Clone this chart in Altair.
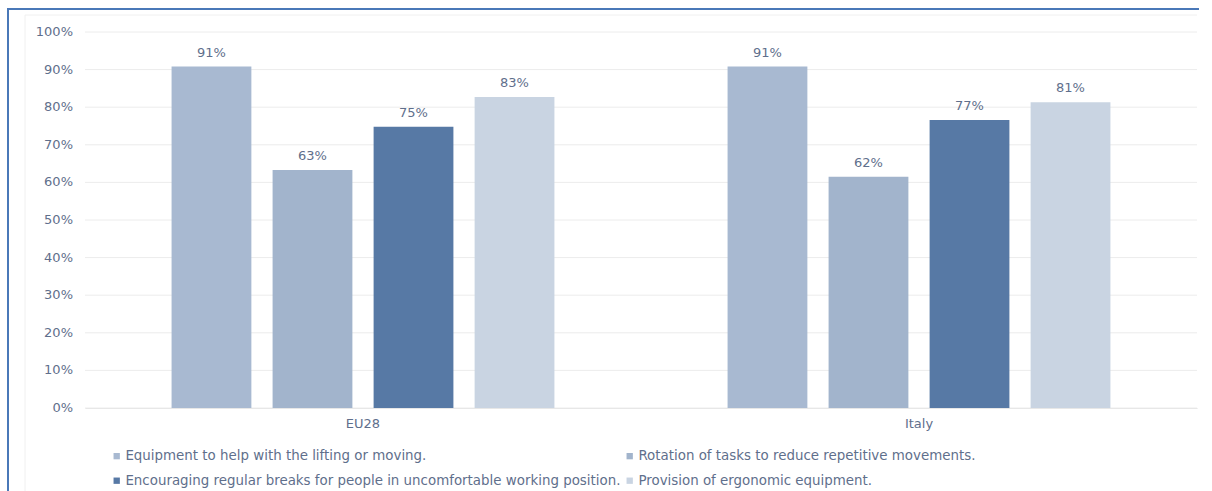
import altair as alt
import pandas as pd

groups = ["EU28", "Italy"]
measures = [
    "Equipment to help with the lifting or moving.",
    "Rotation of tasks to reduce repetitive movements.",
    "Encouraging regular breaks for people in uncomfortable working position.",
    "Provision of ergonomic equipment.",
]
eu28_values = [90.8, 63.3, 74.8, 82.7]
italy_values = [90.8, 61.5, 76.6, 81.3]
colors = ["#a8b9d1", "#a2b4cc", "#5779a5", "#c9d4e2"]
y_ticks = [0, 10, 20, 30, 40, 50, 60, 70, 80, 90, 100]
y_tick_labels = ["0%", "10%", "20%", "30%", "40%", "50%", "60%", "70%", "80%", "90%", "100%"]

rows = []
for g, vals in zip(groups, [eu28_values, italy_values]):
    for m, v in zip(measures, vals):
        rows.append({"group": g, "measure": m, "value": v, "label": f"{round(v):.0f}%"})
df = pd.DataFrame(rows)
ticks_df = pd.DataFrame({"tick": y_ticks, "tick_label": y_tick_labels})

FONT = "DejaVu Sans"
TXT = "#5f6f8c"

y_scale = alt.Scale(domain=[0, 100], nice=False)

x_enc = alt.X("group:N", sort=groups, title=None,
              scale=alt.Scale(paddingInner=0, paddingOuter=0),
              axis=alt.Axis(labelAngle=0, labelFontSize=13, labelColor=TXT, labelFont=FONT,
                            labelPadding=9, ticks=False, domain=True, domainColor="#e2e2e2",
                            grid=False))
xoff = alt.XOffset("measure:N", sort=measures,
                   scale=alt.Scale(paddingInner=0.21, paddingOuter=0.857))
y_enc = alt.Y("value:Q", title=None, scale=y_scale, axis=None)

grid = alt.Chart(ticks_df).mark_rule(color="#ececec", strokeWidth=1).encode(
    y=alt.Y("tick:Q", scale=y_scale, axis=None),
    x=alt.value(0), x2=alt.value(1112),
)
grid_labels = alt.Chart(ticks_df).mark_text(align="right", baseline="middle", fontSize=13,
                                            font=FONT, color=TXT).encode(
    y=alt.Y("tick:Q", scale=y_scale, axis=None),
    x=alt.value(-12),
    text="tick_label:N",
)

bars = alt.Chart(df).mark_bar().encode(
    x=x_enc, xOffset=xoff, y=y_enc,
    color=alt.Color("measure:N", sort=measures,
                    scale=alt.Scale(domain=measures, range=colors),
                    legend=alt.Legend(title=None, orient="none", legendX=25, legendY=417,
                                      columns=2, direction="horizontal", symbolType="square",
                                      symbolSize=40, labelFontSize=13.4, labelFont=FONT,
                                      labelColor=TXT, labelLimit=0, rowPadding=10,
                                      columnPadding=2, labelOffset=2, symbolStrokeWidth=0)),
)

labels = alt.Chart(df).mark_text(baseline="bottom", dy=-7, fontSize=13, font=FONT, color=TXT).encode(
    x=x_enc, xOffset=xoff, y=y_enc,
    text="label:N",
)

frame_df = pd.DataFrame({"k": [0]})
frame_top = alt.Chart(frame_df).mark_rule(color="#4a78b8", strokeWidth=2).encode(
    x=alt.value(-78), x2=alt.value(1114), y=alt.value(-23))
frame_left = alt.Chart(frame_df).mark_rule(color="#4a78b8", strokeWidth=2).encode(
    x=alt.value(-77), y=alt.value(-24), y2=alt.value(460))
inner_top = alt.Chart(frame_df).mark_rule(color="#f0f0f0", strokeWidth=1).encode(
    x=alt.value(-60), x2=alt.value(1112), y=alt.value(-17))
inner_left = alt.Chart(frame_df).mark_rule(color="#f0f0f0", strokeWidth=1).encode(
    x=alt.value(-60), y=alt.value(-17), y2=alt.value(460))

chart = alt.layer(inner_top, inner_left, grid, grid_labels, bars, labels,
                  frame_top, frame_left).properties(
    width=1112, height=376,
    autosize=alt.AutoSizeParams(type="none"),
    padding={"left": 85, "top": 32, "right": 15, "bottom": 83},
    background="white",
).configure_view(stroke=None)

chart.save("out.html", embed_options={"renderer": "svg", "actions": False})
